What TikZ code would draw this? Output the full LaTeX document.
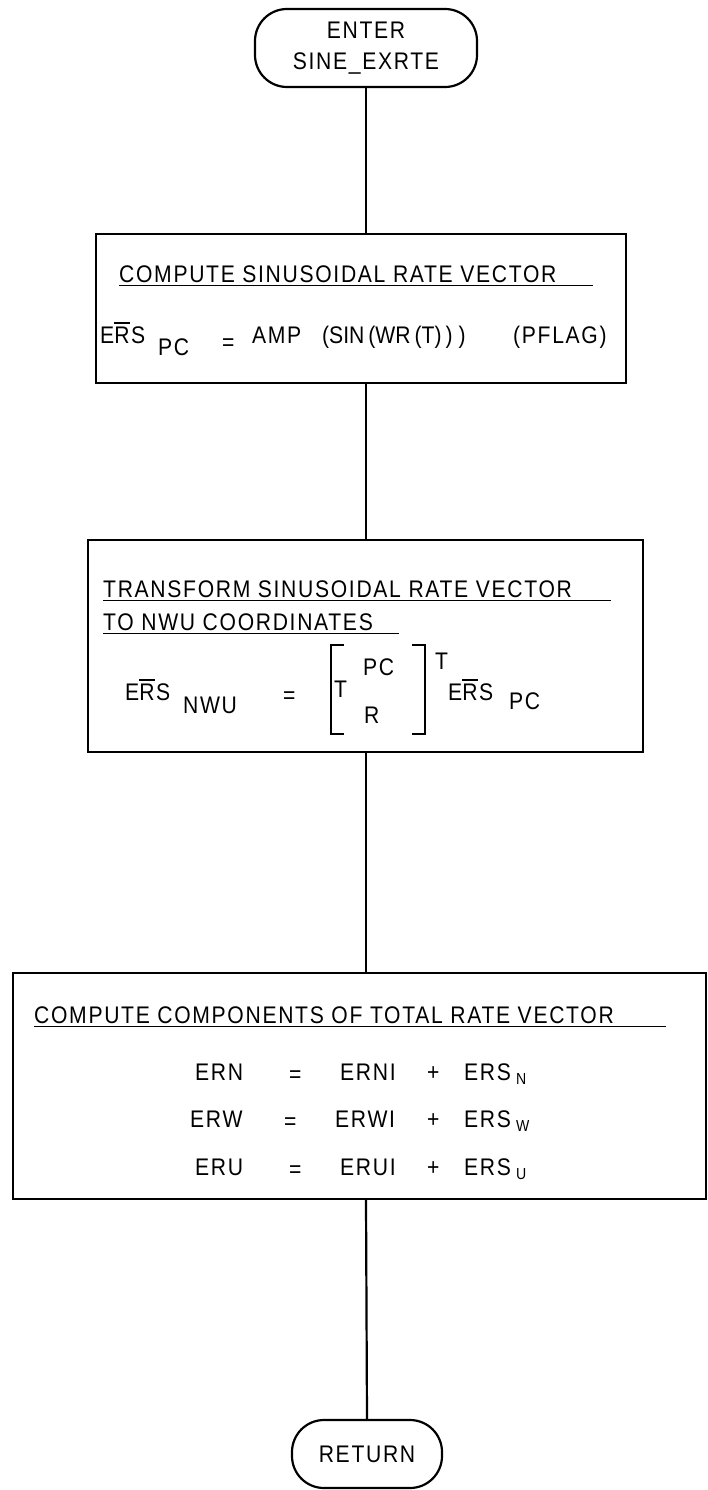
\documentclass[tikz,border=0pt]{standalone}
\usepackage{fontspec}
\setmainfont{Liberation Sans}[FakeStretch=0.88,LetterSpace=7]
\newfontfamily\tightfont{Liberation Sans}[FakeStretch=0.88]
\newcommand{\barR}{\setbox0\hbox{R}\rlap{\rule[\dimexpr\ht0+2.5pt\relax]{\wd0}{2pt}}R}
\tikzset{
  term/.style={draw, line width=2.2pt, rounded corners=32pt, align=center, inner sep=0pt},
  procbox/.style={draw, line width=2.4pt, inner sep=0pt},
  flow/.style={line width=2.2pt},
  txt/.style={inner sep=0pt, anchor=base west},
  subtxt/.style={txt, font=\fontsize{16}{18}\selectfont},
  uline/.style={line width=1.8pt},
  bracket/.style={line width=2.2pt},
}
\begin{document}
\begin{tikzpicture}[x=1pt, y=-1pt, font=\fontsize{24}{31}\selectfont]
        \useasboundingbox (0,0) rectangle (707,1490);
        \coordinate (spine) at (366,0);

        % Nodes
        \node (enter) [term, minimum width=222pt, minimum height=78pt] at (366,48) {ENTER\\SINE\_EXRTE};
        \node (rate) [procbox, minimum width=530pt, minimum height=149pt] at (361,308.5) {};
        \node (transform) [procbox, minimum width=555pt, minimum height=212pt] at (365.5,646) {};
        \node (total) [procbox, minimum width=693pt, minimum height=226pt] at (359.5,1086) {};
        \node (return) [term, minimum width=150pt, minimum height=68pt] at (367,1454) {RETURN};

        % Connectors
        \draw[flow] (enter.south) -- (spine |- rate.north);
        \draw[flow] (spine |- rate.south) -- (spine |- transform.north);
        \draw[flow] (spine |- transform.south) -- (spine |- total.north);
        \draw[flow] (spine |- total.south) -- (return.north);

        % Sinusoidal rate vector
        \node[txt] (ratetitle) at (119,282) {COMPUTE SINUSOIDAL RATE VECTOR};
        \draw[uline] ([yshift=-3.5pt]ratetitle.base west) -- ++(474,0);
        \node[txt] (rateers) at (100,343) {E\barR S};
        \node[txt] (ratepc) at (158,355) {PC};
        \node[txt] (rateeq) at (222,350) {=};
        \node[txt] (rateamp) at (252,343) {AMP};
        \node[txt] (ratesin) at (322,343) {\tightfont (SIN\hspace{4pt}(WR\hspace{4pt}(T)\hspace{4pt})\hspace{6pt})};
        \node[txt] (rateflag) at (513,343) {(PFLAG)};

        % Transform to NWU
        \node[txt] (trtitlea) at (103,597) {TRANSFORM SINUSOIDAL RATE VECTOR};
        \draw[uline] ([yshift=-3.5pt]trtitlea.base west) -- ++(508,0);
        \node[txt] (trtitleb) at (103,630) {TO NWU COORDINATES};
        \draw[uline] ([yshift=-3.5pt]trtitleb.base west) -- ++(296,0);
        \node[txt] (trers) at (125,700) {E\barR S};
        \node[txt] (trnwu) at (183,713) {NWU};
        \node[txt] (treq) at (283,703) {=};
        \draw[bracket] (344,645) -- (331,645) -- (331,734) -- (344,734);
        \draw[bracket] (412,645) -- (425,645) -- (425,734) -- (412,734);
        \node[txt] (trt) at (334,697) {T};
        \node[txt] (trtpc) at (363,675) {PC};
        \node[txt] (trtr) at (364,723) {R};
        \node[txt] (trsup) at (435,669) {T};
        \node[txt] (trerspc) at (448,700) {E\barR S};
        \node[txt] (trpc) at (509,709) {PC};

        % Total rate vector
        \node[txt] (tottitle) at (34,1023) {COMPUTE COMPONENTS OF TOTAL RATE VECTOR};
        \draw[uline] ([yshift=-3.5pt]tottitle.base west) -- ++(632,0);
        \foreach \comp/\y/\dx in {N/1080/0, W/1127/-5, U/1175/0} {
          \node[txt] at (195+\dx,\y) {ER\comp};
          \node[txt] at (289+\dx,\y+2) {=};
          \node[txt] at (340+\dx,\y) {ER\comp I};
          \node[txt] at (427,\y) {+};
          \node[txt] at (464,\y) {ERS};
          \node[subtxt] at (516,\y+4) {\comp};
        }
\end{tikzpicture}
\end{document}
